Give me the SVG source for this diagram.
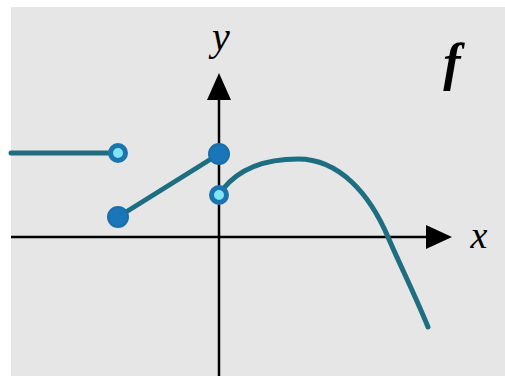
<svg xmlns="http://www.w3.org/2000/svg" width="505" height="376" viewBox="0 0 505 376">
<style>
.axis{stroke:#000;stroke-width:2.5;fill:none}
.curve{stroke:#1c6e80;stroke-width:5;fill:none;stroke-linecap:round}
.open{fill:#80e4f3;stroke:#1a74ad;stroke-width:5}
.closed{fill:#1a76b8;stroke:#1a6fa8;stroke-width:2}
.lbl{font-family:'Liberation Serif','DejaVu Serif',serif;font-style:italic;fill:#000}
</style>
<rect x="0" y="0" width="505" height="376" fill="#fff"/>
<rect x="11" y="7" width="494" height="369" fill="#e6e6e6"/>
<g id="axes">
<line class="axis" x1="11" y1="237" x2="430" y2="237"/>
<polygon points="452,237 426,225 426,249" fill="#000"/>
<line class="axis" x1="219" y1="376" x2="219" y2="98"/>
<polygon points="219,73 207,100 231,100" fill="#000"/>
<text class="lbl" x="479" y="248" font-size="38" text-anchor="middle">x</text>
<text class="lbl" x="221" y="50" font-size="40" text-anchor="middle">y</text>
<text class="lbl" x="452" y="80" font-size="52" font-weight="bold" text-anchor="middle">f</text>
</g>
<g id="connectors">
<path class="curve" d="M11,153 H110"/>
<path class="curve" d="M118,217 L219,154"/>
<path class="curve" d="M223,189 C240,168 265,159 298,159 C340,159 370,195 388,237 C400,265 415,295 428,327"/>
</g>
<g id="p1"><circle class="open" cx="118" cy="153" r="7.5"/></g>
<g id="p2"><circle class="closed" cx="118" cy="217" r="10"/></g>
<g id="p3"><circle class="closed" cx="219" cy="154" r="10"/></g>
<g id="p4"><circle class="open" cx="219" cy="195" r="7.5"/></g>
</svg>
